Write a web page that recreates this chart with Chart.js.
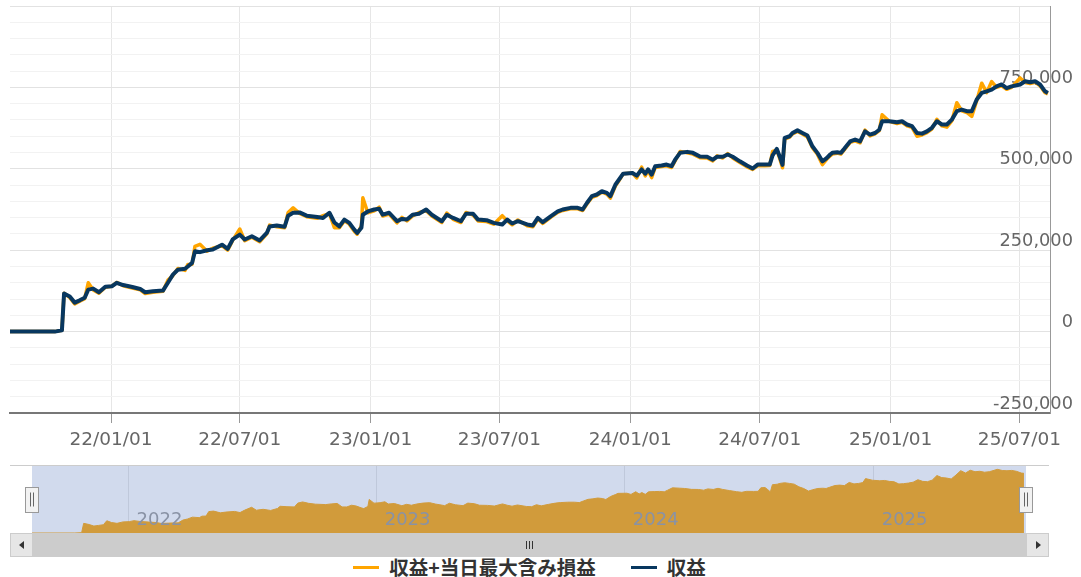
<!DOCTYPE html>
<html>
<head>
<meta charset="utf-8">
<script src="https://cdn.jsdelivr.net/npm/chart.js@4.4.1/dist/chart.umd.min.js"></script>
<style>
    body { margin: 0; background: #fff; }
    #wrap { position: relative; width: 1081px; height: 577px; overflow: hidden; font-family: "DejaVu Sans", sans-serif; }
    #main { position: absolute; left: 0; top: 0; }
    #nav { position: absolute; left: 0; top: 466px; }
    #outline { position: absolute; left: 10px; top: 465px; width: 1039px; height: 1px; background: #ccc; }
    #scroll { position: absolute; left: 10px; top: 533px; width: 1039px; height: 24px; background: #f2f2f2; }
    .btn { position: absolute; top: 0; width: 21px; height: 22px; background: #e6e6e6; border: 1px solid #ccc; }
    .btn.left { left: 0; }
    .btn.right { left: 1016px; }
    .arrow { position: absolute; top: 7px; width: 0; height: 0; border-top: 4px solid transparent; border-bottom: 4px solid transparent; }
    .left .arrow { left: 8px; border-right: 5px solid #333; }
    .right .arrow { left: 9px; border-left: 5px solid #333; }
    #thumb { position: absolute; left: 22px; top: 0; width: 994px; height: 24px; background: #ccc; }
    .grip { position: absolute; top: 8px; width: 1px; height: 8px; background: #333; }
    #legend { position: absolute; left: 0; top: 555px; width: 1059px; display: flex; justify-content: center; align-items: center;
              font-family: "Noto Sans CJK JP", sans-serif; font-weight: bold; font-size: 19.5px; color: #333; line-height: 24px; }
    .item { display: flex; align-items: center; }
    .item + .item { margin-left: 35px; }
    .sym { width: 26px; height: 3px; margin-right: 10px; }
</style>
</head>
<body>
<div id="wrap">
    <canvas id="main" width="1081" height="460"></canvas>
    <div id="outline"></div>
    <canvas id="nav" width="1081" height="67"></canvas>
    <div id="scroll">
        <div class="btn left"><div class="arrow"></div></div>
        <div id="thumb">
            <div class="grip" style="left:494px"></div>
            <div class="grip" style="left:497px"></div>
            <div class="grip" style="left:500px"></div>
        </div>
        <div class="btn right"><div class="arrow"></div></div>
    </div>
    <div id="legend">
        <div class="item"><span class="sym" style="background:#ffa500"></span><span>収益+当日最大含み損益</span></div>
        <div class="item"><span class="sym" style="background:#08375f"></span><span>収益</span></div>
    </div>
</div>
<script>
const X_START = '2021-08-12';
const X_END = '2025-08-13';
const X_TICKS = ['2022-01-01', '2022-07-01', '2023-01-01', '2023-07-01', '2024-01-01', '2024-07-01', '2025-01-01', '2025-07-01'];
const NAV_YEARS = ['2022-01-01', '2023-01-01', '2024-01-01', '2025-01-01'];
const Y_MIN = -250000;
const Y_MAX = 1000000;
const Y_MAJOR = 250000;
const Y_MINOR = 50000;

const DATES = [
    '2021-08-12', '2021-10-14', '2021-10-24', '2021-10-27', '2021-11-04', '2021-11-11', '2021-11-18', '2021-11-25', '2021-11-30', '2021-12-07',
    '2021-12-15', '2021-12-24', '2022-01-02', '2022-01-09', '2022-01-18', '2022-01-31', '2022-02-11', '2022-02-18', '2022-03-01', '2022-03-15',
    '2022-03-22', '2022-03-29', '2022-04-05', '2022-04-15', '2022-04-19', '2022-04-25', '2022-04-29', '2022-05-06', '2022-05-16', '2022-05-24',
    '2022-06-06', '2022-06-14', '2022-06-21', '2022-07-01', '2022-07-08', '2022-07-18', '2022-07-29', '2022-08-08', '2022-08-12', '2022-08-22',
    '2022-09-02', '2022-09-07', '2022-09-14', '2022-09-23', '2022-10-03', '2022-10-18', '2022-10-26', '2022-11-04', '2022-11-11', '2022-11-18',
    '2022-11-25', '2022-12-02', '2022-12-09', '2022-12-13', '2022-12-19', '2022-12-21', '2022-12-28', '2023-01-06', '2023-01-13', '2023-01-18',
    '2023-01-27', '2023-02-07', '2023-02-14', '2023-02-21', '2023-03-01', '2023-03-10', '2023-03-20', '2023-03-28', '2023-04-04', '2023-04-11',
    '2023-04-18', '2023-04-27', '2023-05-08', '2023-05-15', '2023-05-25', '2023-06-01', '2023-06-13', '2023-06-23', '2023-07-05', '2023-07-12',
    '2023-07-19', '2023-07-27', '2023-08-09', '2023-08-17', '2023-08-24', '2023-08-31', '2023-09-11', '2023-09-21', '2023-09-28', '2023-10-09',
    '2023-10-19', '2023-10-26', '2023-11-01', '2023-11-08', '2023-11-15', '2023-11-22', '2023-11-29', '2023-12-04', '2023-12-11', '2023-12-18',
    '2023-12-22', '2024-01-04', '2024-01-10', '2024-01-17', '2024-01-22', '2024-01-26', '2024-01-31', '2024-02-05', '2024-02-14', '2024-02-21',
    '2024-02-28', '2024-03-04', '2024-03-11', '2024-03-21', '2024-03-29', '2024-04-08', '2024-04-18', '2024-04-26', '2024-05-02', '2024-05-10',
    '2024-05-17', '2024-05-24', '2024-06-03', '2024-06-13', '2024-06-21', '2024-06-28', '2024-07-08', '2024-07-15', '2024-07-19', '2024-07-25',
    '2024-07-29', '2024-08-02', '2024-08-05', '2024-08-12', '2024-08-16', '2024-08-23', '2024-08-30', '2024-09-06', '2024-09-13', '2024-09-20',
    '2024-09-27', '2024-10-03', '2024-10-08', '2024-10-11', '2024-10-18', '2024-10-23', '2024-10-28', '2024-11-05', '2024-11-12', '2024-11-19',
    '2024-11-26', '2024-12-03', '2024-12-10', '2024-12-16', '2024-12-20', '2024-12-30', '2025-01-10', '2025-01-17', '2025-01-24', '2025-01-31',
    '2025-02-07', '2025-02-14', '2025-02-21', '2025-02-28', '2025-03-07', '2025-03-14', '2025-03-21', '2025-03-28', '2025-04-04', '2025-04-11',
    '2025-04-18', '2025-04-25', '2025-05-02', '2025-05-09', '2025-05-16', '2025-05-23', '2025-05-30', '2025-06-06', '2025-06-13', '2025-06-20',
    '2025-07-02', '2025-07-09', '2025-07-16', '2025-07-23', '2025-07-30', '2025-08-06', '2025-08-10'
];

// 収益
const PROFIT = [
    0, 0, 4000, 117000, 108000, 89000, 96000, 104000, 129000, 132000,
    121000, 138000, 139000, 150000, 143000, 137000, 131000, 121000, 124000, 126000,
    150000, 175000, 190000, 193000, 200000, 211000, 247000, 244000, 250000, 252000,
    267000, 254000, 283000, 298000, 283000, 293000, 280000, 303000, 323000, 326000,
    322000, 356000, 365000, 366000, 356000, 352000, 349000, 365000, 335000, 323000,
    344000, 334000, 313000, 303000, 319000, 359000, 369000, 375000, 377000, 359000,
    365000, 339000, 346000, 344000, 359000, 362000, 375000, 359000, 349000, 339000,
    359000, 349000, 339000, 362000, 362000, 344000, 342000, 334000, 329000, 344000,
    332000, 339000, 329000, 326000, 349000, 336000, 354000, 369000, 375000, 380000,
    380000, 375000, 395000, 416000, 421000, 431000, 426000, 416000, 451000, 473000,
    485000, 487000, 479000, 498000, 485000, 498000, 482000, 508000, 510000, 513000,
    508000, 528000, 549000, 552000, 549000, 538000, 537000, 528000, 537000, 537000,
    544000, 537000, 523000, 510000, 501000, 513000, 513000, 513000, 541000, 561000,
    538000, 512000, 595000, 600000, 610000, 618000, 610000, 602000, 569000, 549000,
    523000, 533000, 544000, 549000, 551000, 549000, 562000, 584000, 590000, 584000,
    615000, 605000, 610000, 620000, 646000, 646000, 643000, 646000, 636000, 631000,
    610000, 608000, 615000, 626000, 646000, 636000, 636000, 651000, 677000, 682000,
    677000, 677000, 713000, 733000, 738000, 743000, 753000, 759000, 748000, 753000,
    759000, 769000, 766000, 769000, 759000, 738000, 733000
];

// 収益+当日最大含み損益
const PROFIT_MAX = [
    0, 0, 4000, 118000, 104000, 85000, 93000, 101000, 150000, 128000,
    118000, 136000, 139000, 151000, 141000, 134000, 128000, 117000, 121000, 124000,
    158000, 172000, 194000, 188000, 206000, 207000, 262000, 268000, 247000, 256000,
    264000, 250000, 280000, 315000, 279000, 290000, 276000, 300000, 327000, 322000,
    319000, 366000, 380000, 363000, 353000, 348000, 356000, 362000, 319000, 319000,
    340000, 330000, 308000, 299000, 325000, 411000, 365000, 371000, 382000, 355000,
    361000, 334000, 351000, 340000, 355000, 366000, 371000, 355000, 345000, 335000,
    364000, 345000, 335000, 366000, 358000, 340000, 338000, 330000, 356000, 340000,
    328000, 343000, 325000, 322000, 346000, 332000, 351000, 366000, 372000, 377000,
    377000, 372000, 392000, 412000, 418000, 428000, 422000, 410000, 447000, 470000,
    485000, 487000, 472000, 505000, 478000, 495000, 473000, 504000, 507000, 509000,
    504000, 524000, 553000, 549000, 545000, 534000, 533000, 524000, 540000, 533000,
    547000, 533000, 519000, 506000, 498000, 510000, 509000, 510000, 553000, 557000,
    532000, 503000, 591000, 597000, 607000, 615000, 607000, 598000, 565000, 545000,
    513000, 529000, 540000, 545000, 548000, 545000, 559000, 581000, 586000, 580000,
    619000, 601000, 607000, 617000, 666000, 646000, 639000, 643000, 632000, 627000,
    600000, 604000, 611000, 622000, 652000, 632000, 628000, 647000, 703000, 678000,
    673000, 661000, 709000, 763000, 734000, 768000, 750000, 755000, 744000, 750000,
    779000, 765000, 762000, 766000, 755000, 734000, 730000
];

const NAVY = '#08375f';
const ORANGE = '#ffa500';
const X_FONT = { family: "'DejaVu Sans', sans-serif", size: 18.5 };
const Y_FONT = { family: "'DejaVu Sans', sans-serif", size: 17.8 };

function toTime(s) {
    const [y, m, d] = s.split('-').map(Number);
    return Date.UTC(y, m - 1, d);
}

function fmtDate(v) {
    const d = new Date(v);
    const p = n => String(n).padStart(2, '0');
    return p(d.getUTCFullYear() % 100) + '/' + p(d.getUTCMonth() + 1) + '/' + p(d.getUTCDate());
}

const points = vals => DATES.map((d, i) => ({ x: toTime(d), y: vals[i] }));

function yTicks() {
    const ticks = [];
    for (let v = Y_MIN; v <= Y_MAX; v += Y_MINOR) ticks.push({ value: v });
    return ticks;
}

function renderMainChart() {
    const ctx = document.getElementById('main').getContext('2d');
    new Chart(ctx, {
        type: 'line',
        data: {
            datasets: [
                {
                    label: '収益',
                    data: points(PROFIT),
                    borderColor: NAVY,
                    borderWidth: 4,
                    pointRadius: 0,
                    borderJoinStyle: 'round',
                    order: 0,
                },
                {
                    label: '収益+当日最大含み損益',
                    data: points(PROFIT_MAX),
                    borderColor: ORANGE,
                    borderWidth: 3.5,
                    pointRadius: 0,
                    borderJoinStyle: 'round',
                    order: 1,
                }
            ]
        },
        options: {
            responsive: false,
            animation: false,
            layout: { padding: { left: 10, top: 6, right: 0, bottom: 0 } },
            plugins: { legend: { display: false }, tooltip: { enabled: false } },
            scales: {
                x: {
                    type: 'linear',
                    min: toTime(X_START),
                    max: toTime(X_END),
                    afterBuildTicks: s => { s.ticks = X_TICKS.map(d => ({ value: toTime(d) })); },
                    afterFit: s => { s.height = 47; s.paddingLeft = 0; s.paddingRight = 0; },
                    ticks: {
                        autoSkip: false,
                        maxRotation: 0,
                        color: '#666',
                        font: X_FONT,
                        padding: 6,
                        callback: v => fmtDate(v),
                    },
                    grid: { color: '#e6e6e6', tickLength: 10, tickColor: '#999' },
                    border: { color: '#777', width: 2 }
                },
                y: {
                    position: 'right',
                    min: Y_MIN,
                    max: Y_MAX,
                    afterBuildTicks: s => { s.ticks = yTicks(); },
                    afterFit: s => { s.width = 31; s.paddingTop = 0; s.paddingBottom = 0; },
                    ticks: {
                        autoSkip: false,
                        mirror: true,
                        padding: 23,
                        labelOffset: -9,
                        color: '#666',
                        font: Y_FONT,
                        callback: v => (v % Y_MAJOR === 0 && v < Y_MAX) ? v.toLocaleString('en-US') : '',
                    },
                    grid: {
                        drawTicks: false,
                        color: c => c.tick && c.tick.value % Y_MAJOR === 0 ? '#e2e2e2' : '#f2f2f2',
                    },
                    border: { color: '#999', width: 1 }
                }
            }
        }
    });
}

// 年ラベルとマスク、ハンドル
const navDecor = {
    id: 'navDecor',
    afterDatasetsDraw(chart) {
        const { ctx, chartArea, scales } = chart;
        ctx.save();
        ctx.fillStyle = '#999';
        ctx.font = "18px 'DejaVu Sans', sans-serif";
        ctx.textAlign = 'left';
        ctx.textBaseline = 'middle';
        NAV_YEARS.forEach(d => {
            ctx.fillText(d.slice(0, 4), scales.x.getPixelForValue(toTime(d)) + 8, chartArea.top + 54);
        });
        ctx.restore();
    },
    afterDraw(chart) {
        const { ctx, chartArea } = chart;
        ctx.save();
        ctx.fillStyle = 'rgba(102,133,194,0.3)';
        ctx.fillRect(chartArea.left, chartArea.top, chartArea.right - chartArea.left, chartArea.bottom - chartArea.top);
        const mid = (chartArea.top + chartArea.bottom) / 2;
        [chartArea.left, chartArea.right].forEach(x => {
            const cx = Math.round(x);
            ctx.fillStyle = '#f2f2f2';
            ctx.strokeStyle = '#999';
            ctx.lineWidth = 1;
            ctx.fillRect(cx - 6.5, Math.round(mid) - 12.5, 13, 25);
            ctx.strokeRect(cx - 6.5, Math.round(mid) - 12.5, 13, 25);
            ctx.strokeStyle = '#666';
            ctx.beginPath();
            ctx.moveTo(cx - 1.5, mid - 7);
            ctx.lineTo(cx - 1.5, mid + 7);
            ctx.moveTo(cx + 1.5, mid - 7);
            ctx.lineTo(cx + 1.5, mid + 7);
            ctx.stroke();
        });
        ctx.restore();
    }
};

function renderNavigator() {
    const ctx = document.getElementById('nav').getContext('2d');
    new Chart(ctx, {
        type: 'line',
        data: {
            datasets: [{
                data: points(PROFIT_MAX),
                borderColor: ORANGE,
                backgroundColor: ORANGE,
                borderWidth: 1,
                pointRadius: 0,
                fill: 'origin',
            }]
        },
        options: {
            responsive: false,
            animation: false,
            layout: { padding: { left: 32, right: 55, top: 0, bottom: 0 } },
            plugins: { legend: { display: false }, tooltip: { enabled: false } },
            scales: {
                x: {
                    type: 'linear',
                    min: toTime(X_START),
                    max: toTime(X_END),
                    afterBuildTicks: s => { s.ticks = NAV_YEARS.map(d => ({ value: toTime(d) })); },
                    afterFit: s => { s.height = 0; s.paddingLeft = 0; s.paddingRight = 0; },
                    ticks: { display: false },
                    grid: { color: '#e6e6e6', drawTicks: false },
                    border: { display: false }
                },
                y: { display: false, min: 0, max: 820000 }
            }
        },
        plugins: [navDecor]
    });
}

renderMainChart();
renderNavigator();
</script>
</body>
</html>
